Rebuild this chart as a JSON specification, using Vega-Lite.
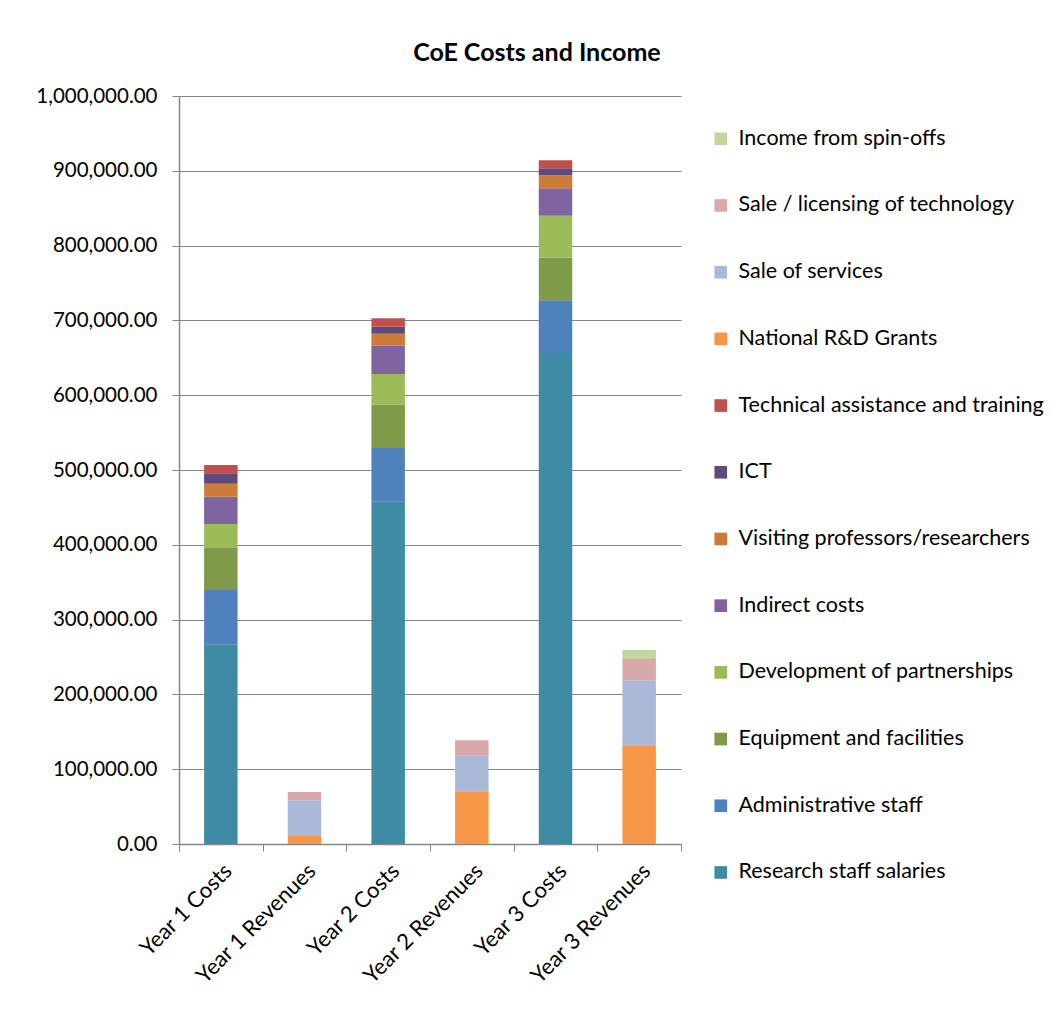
{
  "$schema": "https://vega.github.io/schema/vega-lite/v6.json",
  "width": 502,
  "height": 748,
  "autosize": {"type": "none"},
  "padding": {"left": 179, "top": 96, "right": 373, "bottom": 166},
  "background": "white",
  "title": {
    "text": "CoE Costs and Income",
    "font": "Lato",
    "fontSize": 25,
    "fontWeight": "bold",
    "color": "#000000",
    "anchor": "middle",
    "frame": "bounds",
    "offset": 20,
    "dx": -3
  },
  "config": {
    "view": {"stroke": null},
    "font": "Lato",
    "axis": {"labelFont": "Lato", "labelColor": "#000000", "domainColor": "#868686", "tickColor": "#868686", "gridColor": "#868686"}
  },
  "data": {
    "values": [
      {"category": "Year 1 Costs", "item": "Research staff salaries", "rank": 1, "value": 267000},
      {"category": "Year 1 Costs", "item": "Administrative staff", "rank": 2, "value": 72600},
      {"category": "Year 1 Costs", "item": "Equipment and facilities", "rank": 3, "value": 57100},
      {"category": "Year 1 Costs", "item": "Development of partnerships", "rank": 4, "value": 31100},
      {"category": "Year 1 Costs", "item": "Indirect  costs", "rank": 5, "value": 36500},
      {"category": "Year 1 Costs", "item": "Visiting professors/researchers", "rank": 6, "value": 17400},
      {"category": "Year 1 Costs", "item": "ICT", "rank": 7, "value": 13900},
      {"category": "Year 1 Costs", "item": "Technical assistance and training", "rank": 8, "value": 11100},
      {"category": "Year 1 Revenues", "item": "National R&D Grants", "rank": 9, "value": 10700},
      {"category": "Year 1 Revenues", "item": "Sale of services", "rank": 10, "value": 47700},
      {"category": "Year 1 Revenues", "item": "Sale / licensing of technology", "rank": 11, "value": 11100},
      {"category": "Year 2 Costs", "item": "Research staff salaries", "rank": 1, "value": 458200},
      {"category": "Year 2 Costs", "item": "Administrative staff", "rank": 2, "value": 71200},
      {"category": "Year 2 Costs", "item": "Equipment and facilities", "rank": 3, "value": 57900},
      {"category": "Year 2 Costs", "item": "Development of partnerships", "rank": 4, "value": 41000},
      {"category": "Year 2 Costs", "item": "Indirect  costs", "rank": 5, "value": 37900},
      {"category": "Year 2 Costs", "item": "Visiting professors/researchers", "rank": 6, "value": 16000},
      {"category": "Year 2 Costs", "item": "ICT", "rank": 7, "value": 9400},
      {"category": "Year 2 Costs", "item": "Technical assistance and training", "rank": 8, "value": 11200},
      {"category": "Year 2 Revenues", "item": "National R&D Grants", "rank": 9, "value": 70500},
      {"category": "Year 2 Revenues", "item": "Sale of services", "rank": 10, "value": 47500},
      {"category": "Year 2 Revenues", "item": "Sale / licensing of technology", "rank": 11, "value": 20600},
      {"category": "Year 3 Costs", "item": "Research staff salaries", "rank": 1, "value": 656400},
      {"category": "Year 3 Costs", "item": "Administrative staff", "rank": 2, "value": 70500},
      {"category": "Year 3 Costs", "item": "Equipment and facilities", "rank": 3, "value": 56900},
      {"category": "Year 3 Costs", "item": "Development of partnerships", "rank": 4, "value": 56200},
      {"category": "Year 3 Costs", "item": "Indirect  costs", "rank": 5, "value": 36600},
      {"category": "Year 3 Costs", "item": "Visiting professors/researchers", "rank": 6, "value": 17400},
      {"category": "Year 3 Costs", "item": "ICT", "rank": 7, "value": 9300},
      {"category": "Year 3 Costs", "item": "Technical assistance and training", "rank": 8, "value": 10700},
      {"category": "Year 3 Revenues", "item": "National R&D Grants", "rank": 9, "value": 131000},
      {"category": "Year 3 Revenues", "item": "Sale of services", "rank": 10, "value": 87900},
      {"category": "Year 3 Revenues", "item": "Sale / licensing of technology", "rank": 11, "value": 28400},
      {"category": "Year 3 Revenues", "item": "Income from spin-offs", "rank": 12, "value": 12100}
    ]
  },
  "mark": {"type": "bar", "width": {"band": 0.4}},
  "encoding": {
    "x": {
      "field": "category",
      "type": "nominal",
      "sort": ["Year 1 Costs", "Year 1 Revenues", "Year 2 Costs", "Year 2 Revenues", "Year 3 Costs", "Year 3 Revenues"],
      "scale": {"paddingInner": 0, "paddingOuter": 0},
      "axis": {
        "title": null,
        "labelAngle": -45,
        "labelFontSize": 22,
        "labelPadding": 9,
        "tickBand": "extent",
        "tickSize": 7,
        "domainWidth": 1.5
      }
    },
    "y": {
      "field": "value",
      "type": "quantitative",
      "stack": "zero",
      "scale": {"domain": [0, 1000000], "nice": false},
      "axis": {
        "title": null,
        "values": [0, 100000, 200000, 300000, 400000, 500000, 600000, 700000, 800000, 900000, 1000000],
        "format": ",.2f",
        "labelFontSize": 20.5,
        "labelPadding": 15,
        "tickSize": 7,
        "domainWidth": 1.5
      }
    },
    "order": {"field": "rank", "type": "quantitative", "sort": "ascending"},
    "color": {
      "field": "item",
      "type": "nominal",
      "scale": {
        "domain": ["Income from spin-offs", "Sale / licensing of technology", "Sale of services", "National R&D Grants", "Technical assistance and training", "ICT", "Visiting professors/researchers", "Indirect  costs", "Development of partnerships", "Equipment and facilities", "Administrative staff", "Research staff salaries"],
        "range": ["#C3D69B", "#D9A9A9", "#A9B9D7", "#F79646", "#C0504D", "#604A7B", "#CC7B38", "#8064A2", "#9BBB59", "#7F9A48", "#4F81BD", "#3D8CA4"]
      },
      "legend": {
        "title": null,
        "orient": "none",
        "legendX": 531,
        "legendY": 32,
        "symbolType": "square",
        "symbolSize": 160,
        "symbolStrokeWidth": 0,
        "labelFont": "Lato",
        "labelFontSize": 21.5,
        "labelColor": "#000000",
        "labelOffset": 7,
        "labelLimit": 400,
        "rowPadding": 43.7
      }
    }
  }
}
